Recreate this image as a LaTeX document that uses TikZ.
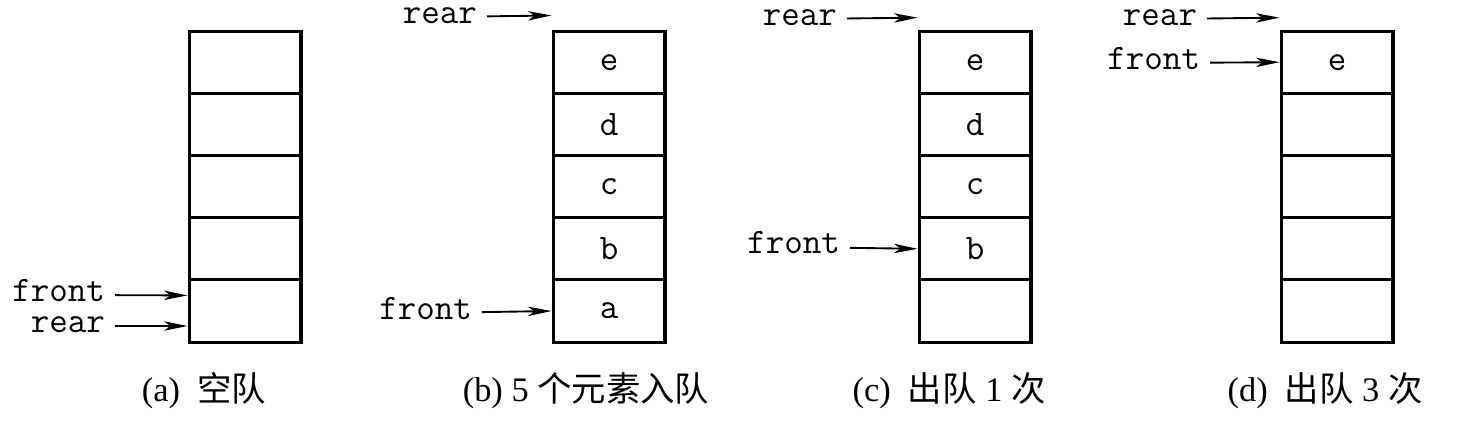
\documentclass[tikz,border=0pt]{standalone}
\usepackage{fontspec}
\setmainfont{Liberation Serif}
\newfontfamily\cjk{Noto Sans CJK SC}
\usetikzlibrary{arrows.meta}
\begin{document}
\begin{tikzpicture}[x=0.32pt, y=-0.32pt, >={Stealth[length=7.5pt, width=3pt, inset=2pt]},
  cell/.style={draw, line width=1pt, minimum width=35.8pt, minimum height=19.9pt,
    inner sep=0pt, font=\ttfamily\fontsize{11.5}{13}\selectfont},
  ptr/.style={anchor=east, inner xsep=3pt, inner ysep=0pt, text height=4pt, text depth=0pt,
    font=\ttfamily\fontsize{11.5}{13}\selectfont},
  subcap/.style={anchor=base, inner sep=0pt, font=\fontsize{11}{13}\selectfont}]
\useasboundingbox (0,0) rectangle (1457,423);

% Zellen
\foreach \i in {1,...,5}
  \node[cell] (a\i) at (245, 62.2*\i) {};
\foreach \t [count=\i] in {e,d,c,b,a}
  \node[cell] (b\i) at (609, 62.2*\i) {\t};
\foreach \t [count=\i] in {e,d,c,b,{}}
  \node[cell] (c\i) at (975, 62.2*\i) {\t};
\foreach \t [count=\i] in {e,{},{},{},{}}
  \node[cell] (d\i) at (1337, 62.2*\i) {\t};

% Zeiger
\node[ptr] (fronta) at (115, 295) {front};
\node[ptr] (reara)  at (115, 326) {rear};
\node[ptr] (rearb)  at (487, 17)  {rear};
\node[ptr] (frontb) at (482, 313) {front};
\node[ptr] (rearc)  at (847, 19)  {rear};
\node[ptr] (frontc) at (850, 247) {front};
\node[ptr] (reard)  at (1207, 19) {rear};
\node[ptr] (frontd) at (1210, 63) {front};

\coordinate (fa) at ([yshift=5pt]a5.west);
\coordinate (ra) at ([yshift=-4.8pt]a5.west);
\coordinate (rb) at ([yshift=4.5pt]b1.north west);
\coordinate (rc) at ([yshift=3.8pt]c1.north west);
\coordinate (rd) at ([yshift=3.8pt]d1.north west);

% Pfeile
\draw[->, line width=0.6pt] (fronta) -- (fa);
\draw[->, line width=0.6pt] (reara) -- (ra);
\draw[->, line width=0.6pt] (rearb) -- (rb);
\draw[->, line width=0.6pt] (frontb) -- (b5.west);
\draw[->, line width=0.6pt] (rearc) -- (rc);
\draw[->, line width=0.6pt] (frontc) -- (c4.west);
\draw[->, line width=0.6pt] (reard) -- (rd);
\draw[->, line width=0.6pt] (frontd) -- (d1.west);

% Beschriftung
\node[subcap] (capa) at (204, 401)  {(a)\ \ {\cjk 空队}};
\node[subcap] (capb) at (586, 401)  {(b) 5 {\cjk 个元素入队}};
\node[subcap] (capc) at (949, 401)  {(c)\ \ {\cjk 出队} 1 {\cjk 次}};
\node[subcap] (capd) at (1325, 401) {(d)\ \ {\cjk 出队} 3 {\cjk 次}};
\end{tikzpicture}
\end{document}
